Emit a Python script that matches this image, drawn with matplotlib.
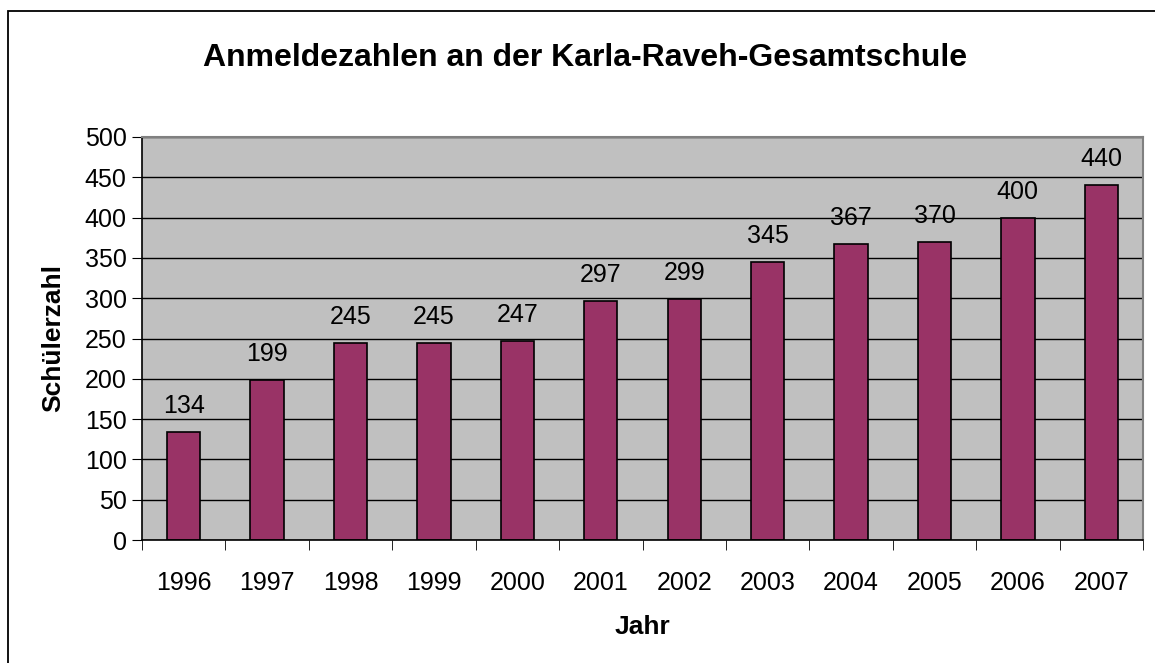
import matplotlib
matplotlib.use("Agg")
import matplotlib.pyplot as plt
from matplotlib.patches import Rectangle

jahre = ["1996", "1997", "1998", "1999", "2000", "2001",
         "2002", "2003", "2004", "2005", "2006", "2007"]
anmeldungen = [134, 199, 245, 245, 247, 297, 299, 345, 367, 370, 400, 440]

plt.rcParams['font.family'] = ['Liberation Sans', 'DejaVu Sans']

fig = plt.figure(figsize=(11.55, 6.63), dpi=100)
ax = fig.add_axes([142 / 1155, 1 - 540 / 663, (1143 - 142) / 1155, (540 - 137) / 663])

# outer chart border (right and bottom edges lie outside the picture)
fig.patches.append(Rectangle((8 / 1155, -0.05), 1.1, 1 - 11 / 663 + 0.05,
                             transform=fig.transFigure, fill=False,
                             edgecolor='black', linewidth=1.3))

x = list(range(len(jahre)))
ax.set_facecolor('#C0C0C0')
ax.set_axisbelow(True)
ax.grid(axis='y', color='black', linewidth=1)
ax.bar(x, anmeldungen, width=0.4, color='#993366', edgecolor='black', linewidth=1.2)

for xi, v in zip(x, anmeldungen):
    ax.annotate(str(v), (xi, v), xytext=(0, 10), textcoords='offset points',
                ha='center', va='bottom', fontsize=18)

ax.set_xlim(-0.5, len(jahre) - 0.5)
ax.set_ylim(0, 500)
ax.set_yticks(range(0, 501, 50))
ax.set_xticks(x)
ax.set_xticklabels(jahre)
ax.set_xticks([i - 0.5 for i in range(len(jahre) + 1)], minor=True)
ax.tick_params(axis='x', which='major', length=0, pad=22, labelsize=18)
ax.tick_params(axis='x', which='minor', length=7, direction='out', color='black')
ax.tick_params(axis='y', length=7, direction='out', labelsize=18, pad=4)

for side in ['top', 'right']:
    ax.spines[side].set_color('#808080')
    ax.spines[side].set_linewidth(1.5)
for side in ['left', 'bottom']:
    ax.spines[side].set_color('black')
    ax.spines[side].set_linewidth(1.2)

ax.set_xlabel("Jahr", fontsize=19, fontweight='bold', labelpad=15)
ax.set_ylabel("Schülerzahl", fontsize=19, fontweight='bold', labelpad=14)
fig.text(0.5 * (205 + 965) / 1155, 1 - 58 / 663,
         "Anmeldezahlen an der Karla-Raveh-Gesamtschule",
         ha='center', va='center', fontsize=23, fontweight='bold')

fig.savefig("out.png", dpi=100)
